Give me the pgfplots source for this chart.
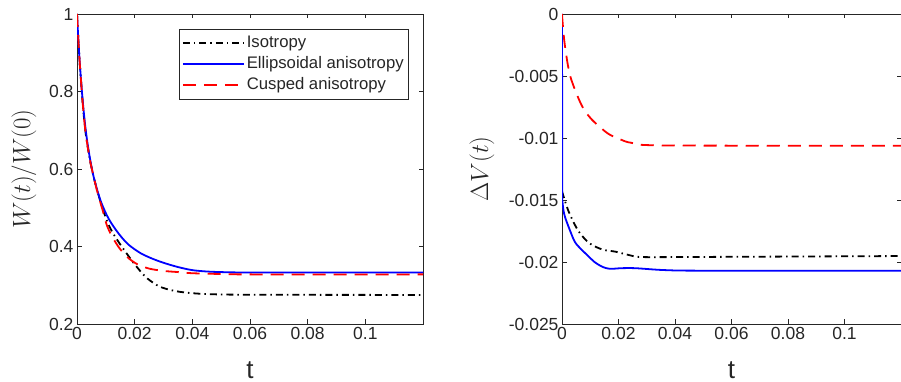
\documentclass[border=0pt]{standalone}
\usepackage{fontspec}
\setmainfont{Liberation Sans}
\usepackage{pgfplots}
\pgfplotsset{compat=1.18}
\definecolor{axgray}{rgb}{0.15,0.15,0.15}
\begin{document}
\begin{tikzpicture}[x=1pt,y=1pt]
\useasboundingbox (0,0) rectangle (901,382);
\pgfplotsset{
  mystyle/.style={
    scale only axis, width=346pt, height=310pt,
    xmin=0, xmax=0.12,
    xtick={0,0.02,0.04,0.06,0.08,0.1},
    xticklabels={0,0.02,0.04,0.06,0.08,0.1},
    scaled x ticks=false, scaled y ticks=false,
    tick align=inside,
    axis line style={draw=axgray, line width=0.6pt},
    tick style={draw=axgray, line width=0.6pt},
    major tick length=4.5pt,
    ticklabel style={font=\fontsize{17.5}{20}\selectfont, text=axgray},
    /pgf/number format/assume math mode=true,
    xlabel={t},
    xlabel style={font=\fontsize{26}{28}\selectfont, text=axgray, at={(axis description cs:0.5,0)}, anchor=center, yshift=-46pt},
    ylabel style={font=\fontsize{29.5}{31}\selectfont, text=axgray, anchor=center},
  },
  iso/.style={black, line width=1.8pt, dash pattern=on 7pt off 4pt on 1.5pt off 4pt},
  ell/.style={blue, line width=1.8pt},
  cus/.style={red, line width=1.8pt, dash pattern=on 13pt off 8pt},
}
\begin{axis}[mystyle, at={(77pt,58pt)}, anchor=south west,
  ymin=0.2, ymax=1,
  ytick={0.2,0.4,0.6,0.8,1},
  yticklabels={0.2,0.4,0.6,0.8,1},
  ylabel={$W(t)/W(0)$},
  ylabel style={at={([xshift=-53pt]axis description cs:0,0.5)}},
  legend cell align=left,
  legend style={at={(rel axis cs:1,1)}, xshift=-14pt, yshift=-15pt, anchor=north east,
    draw=axgray, line width=0.6pt, font=\fontsize{16.7}{20}\selectfont, text=axgray,
    inner xsep=3pt, inner ysep=3.5pt, row sep=0pt,
    nodes={text height=12.5pt, text depth=3.5pt, inner ysep=2.5pt}},
  legend image code/.code={\draw[#1] (0pt,0pt) -- (61pt,0pt);},
]
\addplot[iso, smooth] coordinates {(0,1) (0.0005,0.93) (0.001,0.868) (0.002,0.768) (0.003,0.693) (0.0045,0.623) (0.006,0.573) (0.0073,0.537) (0.009,0.495) (0.0109,0.457) (0.013,0.428) (0.0155,0.40) (0.018,0.374) (0.0196,0.358) (0.022,0.336) (0.024,0.32) (0.0265,0.306) (0.0288,0.296) (0.032,0.2885) (0.0357,0.283) (0.04,0.2795) (0.046,0.277) (0.06,0.2755) (0.12,0.275)};
\addlegendentry{Isotropy}
\addplot[ell, smooth] coordinates {(0,1) (0.0005,0.930) (0.001,0.869) (0.002,0.774) (0.003,0.702) (0.004,0.649) (0.005,0.607) (0.006,0.573) (0.008,0.522) (0.010,0.486) (0.012,0.459) (0.015,0.428) (0.018,0.404) (0.022,0.383) (0.026,0.369) (0.030,0.358) (0.035,0.347) (0.040,0.339) (0.045,0.3355) (0.05,0.334) (0.06,0.333) (0.12,0.333)};
\addlegendentry{Ellipsoidal anisotropy}
\addplot[cus, smooth] coordinates {(0,1) (0.0005,0.93) (0.001,0.868) (0.002,0.768) (0.003,0.693) (0.0045,0.623) (0.006,0.573) (0.0072,0.537) (0.009,0.491) (0.0103,0.456) (0.012,0.428) (0.0143,0.400) (0.016,0.384) (0.018,0.369) (0.021,0.354) (0.025,0.343) (0.03,0.337) (0.035,0.334) (0.04,0.331) (0.05,0.329) (0.06,0.328) (0.12,0.328)};
\addlegendentry{Cusped anisotropy}
\end{axis}
\begin{axis}[mystyle, at={(562pt,58pt)}, anchor=south west, width=339pt,
  ymin=-0.025, ymax=0,
  ytick={-0.025,-0.02,-0.015,-0.01,-0.005,0},
  yticklabels={-0.025,-0.02,-0.015,-0.01,-0.005,0},
  ylabel={$\Delta V(t)$},
  ylabel style={at={([xshift=-80pt]axis description cs:0,0.5)}},
]
\addplot[iso, smooth] coordinates {(0,-0.0143) (0.0023,-0.0159) (0.0058,-0.0175) (0.0098,-0.0185) (0.0144,-0.0190) (0.019,-0.01917) (0.0237,-0.01944) (0.028,-0.0196) (0.042,-0.0196) (0.12,-0.01952)};
\addplot[ell, forget plot] coordinates {(0,0) (0.0001,-0.0150)};
\addplot[ell, smooth] coordinates {(0.0001,-0.0150) (0.0005,-0.0158) (0.0011,-0.0164) (0.0029,-0.0175) (0.0046,-0.0184) (0.0069,-0.0190) (0.0092,-0.0195) (0.0115,-0.0200) (0.0144,-0.0204) (0.017,-0.02055) (0.021,-0.0205) (0.026,-0.0205) (0.036,-0.02065) (0.05,-0.0207) (0.12,-0.0207)};
\addplot[cus, smooth] coordinates {(0,0) (0.0003,-0.0009) (0.001,-0.0025) (0.0029,-0.005) (0.0069,-0.00734) (0.0105,-0.0085) (0.0162,-0.00963) (0.0205,-0.0101) (0.0248,-0.0104) (0.0364,-0.0106) (0.12,-0.01062)};
\end{axis}
\end{tikzpicture}
\end{document}
